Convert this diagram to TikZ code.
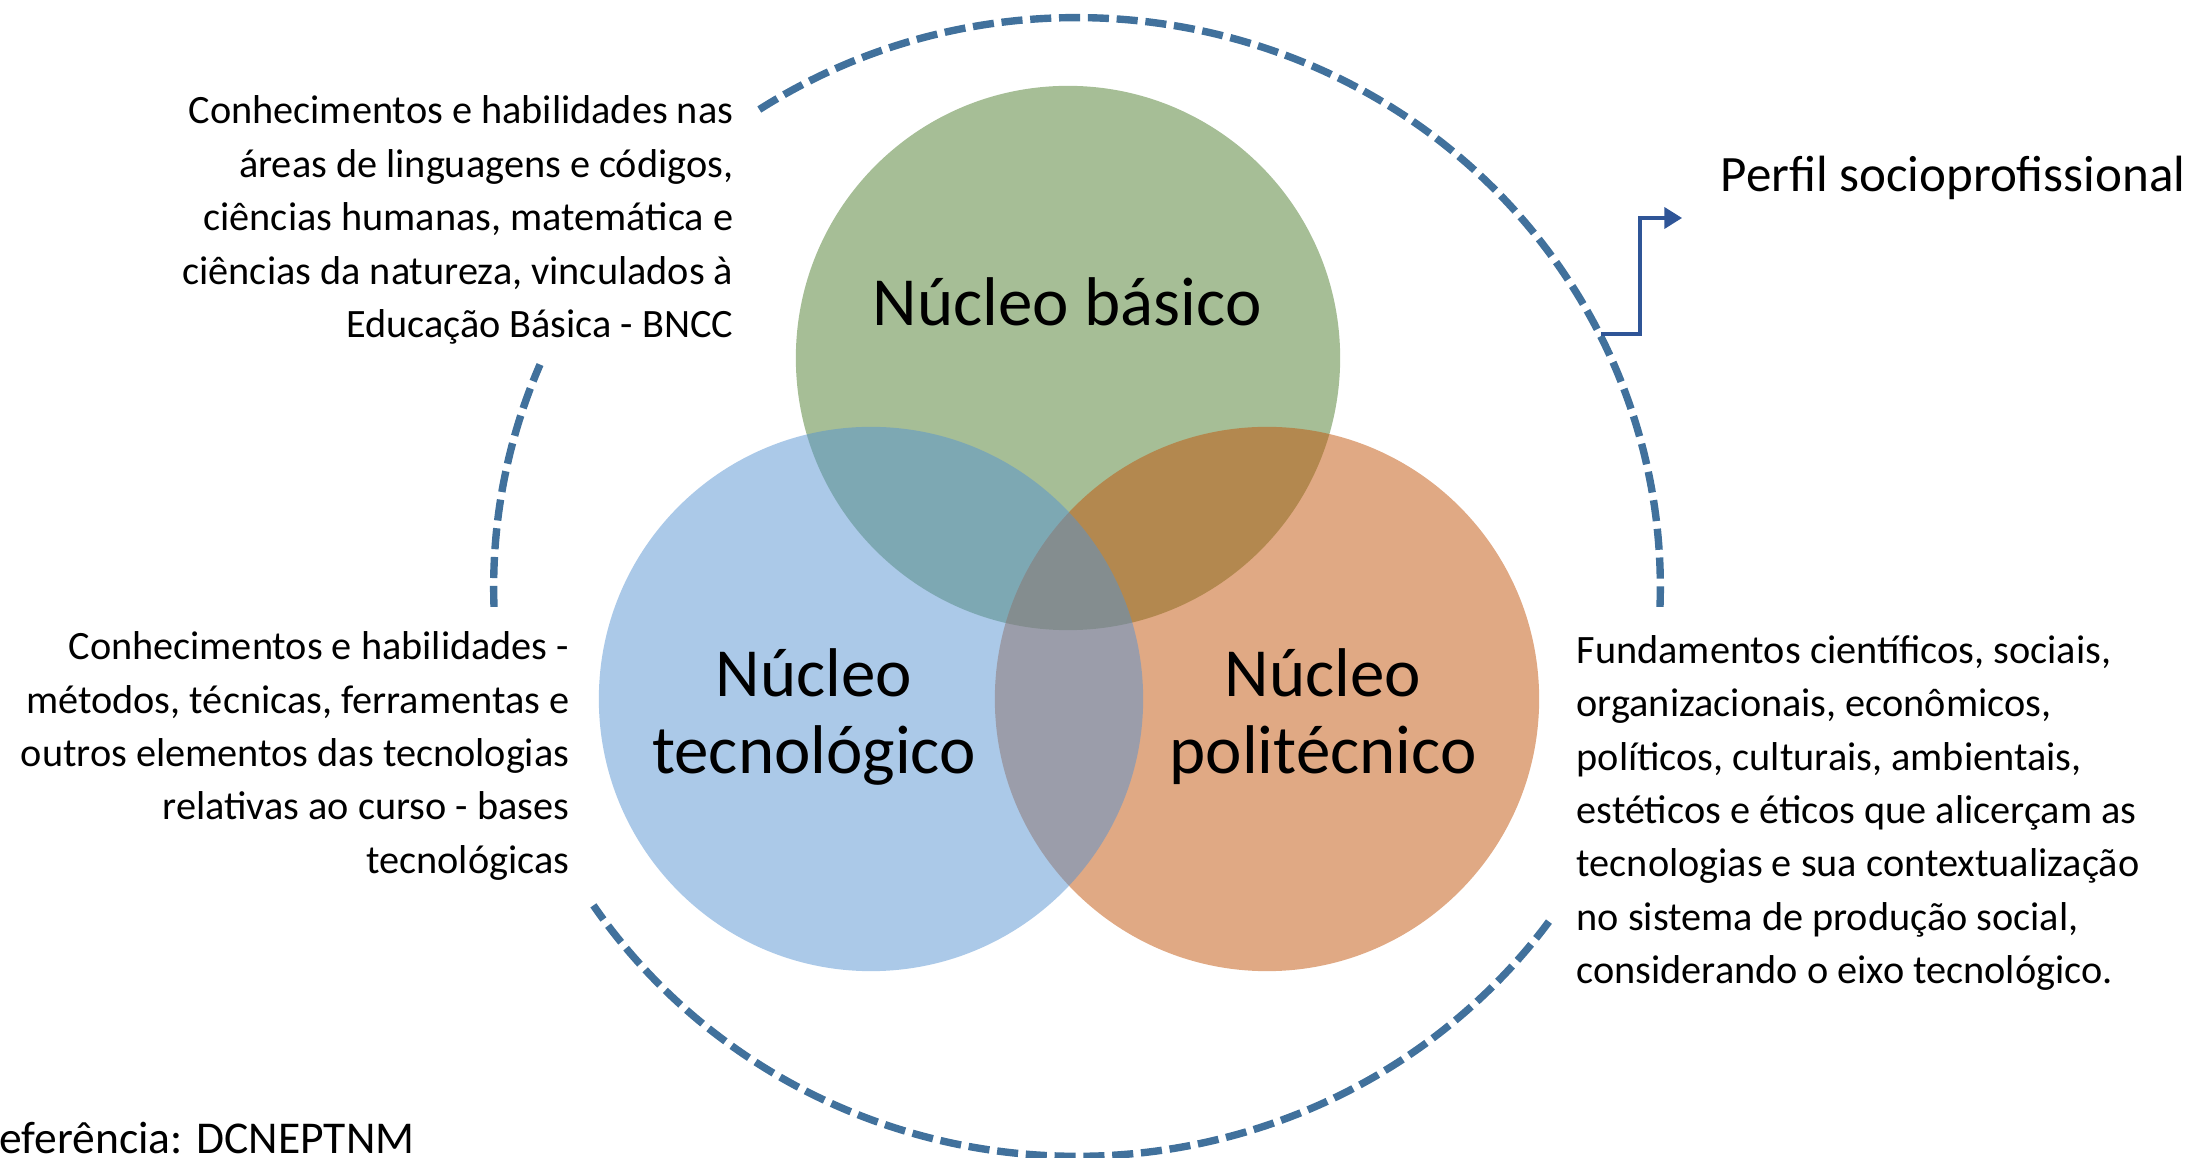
\documentclass[tikz,border=0pt]{standalone}
\usepackage{fontspec}
\setmainfont{Carlito}
\usetikzlibrary{arrows.meta}
\definecolor{dashblue}{RGB}{65,113,156}
\definecolor{arrowblue}{RGB}{47,85,151}
\definecolor{vgreen}{RGB}{77,125,45}
\definecolor{vorange}{RGB}{193,83,9}
\definecolor{vblue}{RGB}{87,147,209}
\begin{document}
\begin{tikzpicture}[x=0.01cm,y=0.01cm,
  venn/.style={circle, minimum size=5.44cm, inner sep=0pt, fill opacity=0.5},
  side/.style={inner sep=0pt, font=\fontsize{11.45}{15.2}\selectfont},
  big/.style={inner sep=0pt, align=center, font=\fontsize{19.6}{21.9}\selectfont},
  ring/.style={draw=dashblue, line width=2.1pt, dash pattern=on 6pt off 2.2pt},
  conn/.style={draw=arrowblue, line width=0.9pt, -{Triangle[length=5pt,width=6pt]}}]
\useasboundingbox (0,0) rectangle (2202,1157);
% Venn circles
\node[venn, fill=vgreen] (cbas) at (1068,799) {};
\node[venn, fill=vorange] (cpol) at (1267,458) {};
\node[venn, fill=vblue] (ctec) at (871,458) {};
% dashed ring
\coordinate (rc) at (1077,570);
\draw[ring] (rc) ++(123:5.83cm and 5.69cm) arc[start angle=123, end angle=-2, x radius=5.83cm, y radius=5.69cm];
\draw[ring] (rc) ++(-36:5.83cm and 5.69cm) arc[start angle=-36, end angle=-146, x radius=5.83cm, y radius=5.69cm];
\draw[ring] (rc) ++(182:5.83cm and 5.69cm) arc[start angle=182, end angle=157, x radius=5.83cm, y radius=5.69cm];
% labels
\node[big] (lbas) at (1067,855) {Núcleo básico};
\node[big] (ltec) at (814,440) {Núcleo\\tecnológico};
\node[big] (lpol) at (1323,440) {Núcleo\\politécnico};
% side texts
\node[side, align=right, anchor=east] (tbas) at (734,937) {Conhecimentos e habilidades nas\\áreas de linguagens e códigos,\\ciências humanas, matemática e\\ciências da natureza, vinculados à\\Educação Básica - BNCC};
\node[side, align=right, anchor=east] (ttec) at (570,401) {Conhecimentos e habilidades -\\métodos, técnicas, ferramentas e\\outros elementos das tecnologias\\relativas ao curso - bases\\tecnológicas};
\node[side, align=left, anchor=west] (tpol) at (1576,344) {Fundamentos científicos, sociais,\\organizacionais, econômicos,\\políticos, culturais, ambientais,\\estéticos e éticos que alicerçam as\\tecnologias e sua contextualização\\no sistema de produção social,\\considerando o eixo tecnológico.};
% perfil
\node[inner sep=0pt, anchor=west, font=\fontsize{14.5}{17}\selectfont] (perfil) at (1720,979) {Perfil socioprofissional};
\coordinate (as) at (1601,823);
\coordinate (bend) at (1640,823);
\coordinate (tip) at (1682,939);
\draw[conn] (as) -- (bend) |- (tip);
% reference
\node[inner sep=0pt, anchor=base west, font=\fontsize{12.95}{15}\selectfont] (ref) at (-25,4) {Referência: DCNEPTNM};
\end{tikzpicture}
\end{document}
